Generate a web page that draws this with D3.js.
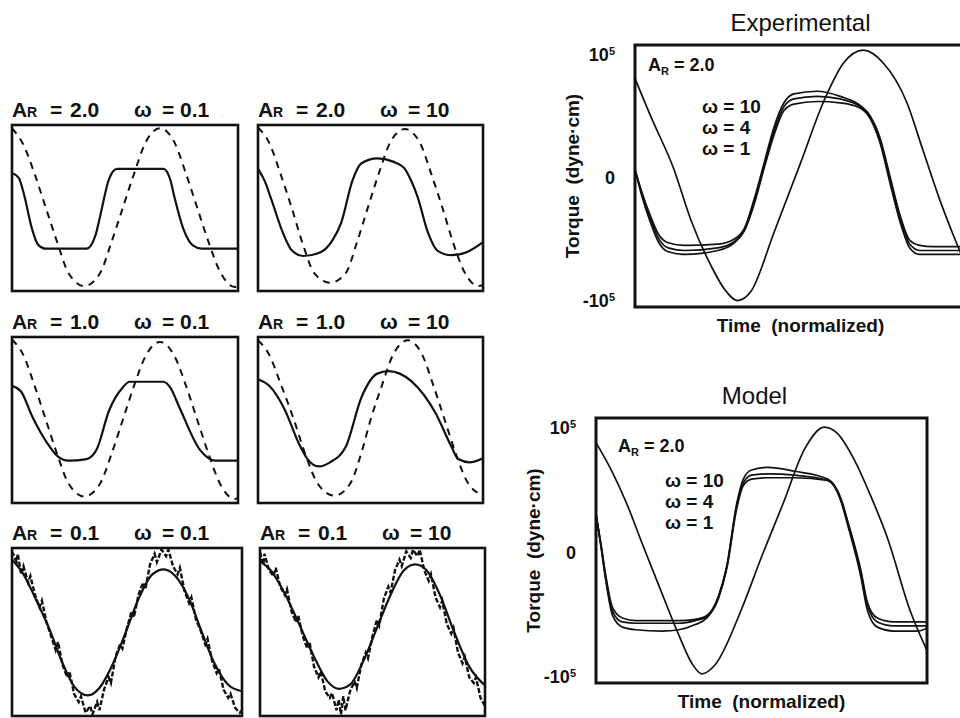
<!DOCTYPE html>
<html>
<head>
<meta charset="utf-8">
<script src="https://cdn.jsdelivr.net/npm/d3@7"></script>
<style>
  body { margin: 0; background: #fff; }
  svg { display: block; }
  text { font-family: "Liberation Sans", Arial, sans-serif; fill: #111; }
</style>
</head>
<body>
<svg id="fig" width="960" height="718"></svg>
<script>
// ---- data: [normalized time, normalized torque/strain] ----
const ampLabels = ["2.0", "1.0", "0.1"];
const freqLabels = ["0.1", "10"];
const omegaLabels = ["10", "4", "1"];
const yTickLabels = ["-10", "0", "10"];   // times 10^5 for the outer two

// A_R = 2.0, omega = 0.1
const strainA2w01 = [[0,0.98],[0.05,0.78],[0.1,0.42],[0.15,0.0],[0.2,-0.42],[0.25,-0.8],[0.32,-0.96],[0.39,-0.8],[0.44,-0.42],[0.49,0.0],[0.54,0.42],[0.59,0.8],[0.655,0.98],[0.72,0.8],[0.77,0.42],[0.82,0.0],[0.87,-0.42],[0.92,-0.78],[0.985,-0.97],[1,-0.96]];
const torqueA2w01 = [[0,0.43],[0.03,0.37],[0.05,0.2],[0.09,-0.27],[0.115,-0.45],[0.15,-0.5],[0.33,-0.5],[0.37,-0.33],[0.39,-0.1],[0.43,0.36],[0.465,0.48],[0.67,0.48],[0.7,0.35],[0.72,0.12],[0.76,-0.27],[0.8,-0.46],[0.84,-0.5],[1,-0.5]];
// A_R = 2.0, omega = 10
const strainA2w10 = [[0,0.99],[0.05,0.8],[0.1,0.42],[0.15,0.0],[0.2,-0.45],[0.25,-0.8],[0.32,-0.92],[0.39,-0.8],[0.44,-0.42],[0.49,0.02],[0.54,0.45],[0.59,0.82],[0.653,0.97],[0.72,0.8],[0.77,0.42],[0.82,0.0],[0.87,-0.45],[0.92,-0.8],[0.98,-0.96],[1,-0.95]];
const torqueA2w10 = [[0,0.48],[0.03,0.33],[0.06,0.1],[0.11,-0.3],[0.15,-0.52],[0.2,-0.59],[0.28,-0.54],[0.33,-0.4],[0.37,-0.18],[0.42,0.34],[0.46,0.55],[0.53,0.61],[0.6,0.57],[0.65,0.49],[0.68,0.34],[0.71,0.13],[0.755,-0.3],[0.8,-0.53],[0.86,-0.58],[0.93,-0.54],[1,-0.42]];
// A_R = 1.0, omega = 0.1
const strainA1w01 = [[0,0.99],[0.05,0.8],[0.1,0.42],[0.15,0.0],[0.2,-0.42],[0.25,-0.78],[0.32,-0.94],[0.39,-0.78],[0.44,-0.42],[0.49,0.0],[0.54,0.42],[0.59,0.78],[0.655,0.96],[0.72,0.78],[0.77,0.42],[0.82,0.0],[0.87,-0.42],[0.92,-0.78],[0.985,-0.97],[1,-0.96]];
const torqueA1w01 = [[0,0.42],[0.04,0.35],[0.09,0.04],[0.155,-0.28],[0.2,-0.44],[0.25,-0.5],[0.33,-0.48],[0.375,-0.36],[0.43,0.12],[0.49,0.4],[0.52,0.47],[0.67,0.47],[0.7,0.4],[0.74,0.16],[0.83,-0.36],[0.87,-0.47],[0.9,-0.5],[1,-0.5]];
// A_R = 1.0, omega = 10
const strainA1w10 = [[0,0.98],[0.05,0.8],[0.1,0.45],[0.16,0.0],[0.21,-0.42],[0.27,-0.8],[0.34,-0.93],[0.41,-0.78],[0.46,-0.4],[0.5,0.0],[0.55,0.42],[0.6,0.8],[0.667,0.98],[0.73,0.8],[0.78,0.42],[0.83,0.0],[0.88,-0.42],[0.93,-0.76],[0.99,-0.9],[1,-0.9]];
const torqueA1w10 = [[0,0.5],[0.05,0.42],[0.12,0.12],[0.18,-0.28],[0.22,-0.48],[0.27,-0.57],[0.32,-0.52],[0.39,-0.33],[0.46,0.28],[0.53,0.57],[0.58,0.6],[0.63,0.57],[0.68,0.48],[0.79,0.08],[0.86,-0.33],[0.89,-0.48],[0.94,-0.52],[1,-0.47]];
// A_R = 0.1, omega = 0.1 (noisy strain trace)
const strainA01w01 = [[0,0.98],[0.02,0.85],[0.025,0.95],[0.04,0.7],[0.05,0.8],[0.07,0.6],[0.08,0.68],[0.1,0.45],[0.12,0.3],[0.13,0.38],[0.15,0.12],[0.17,-0.05],[0.19,-0.22],[0.2,-0.12],[0.22,-0.4],[0.24,-0.55],[0.25,-0.48],[0.27,-0.75],[0.29,-0.85],[0.3,-0.78],[0.32,-0.98],[0.34,-0.9],[0.35,-1.0],[0.37,-0.85],[0.38,-0.95],[0.4,-0.7],[0.42,-0.55],[0.43,-0.62],[0.45,-0.3],[0.47,-0.15],[0.48,-0.2],[0.5,0.05],[0.52,0.25],[0.53,0.18],[0.55,0.45],[0.57,0.6],[0.58,0.52],[0.6,0.82],[0.62,0.95],[0.63,0.85],[0.65,1.0],[0.67,0.92],[0.68,1.0],[0.7,0.8],[0.72,0.7],[0.73,0.78],[0.75,0.5],[0.77,0.35],[0.78,0.42],[0.8,0.15],[0.82,0.02],[0.84,-0.15],[0.85,-0.08],[0.87,-0.35],[0.89,-0.5],[0.9,-0.45],[0.92,-0.7],[0.94,-0.8],[0.95,-0.75],[0.97,-0.92],[0.99,-0.98],[1,-0.95]];
const torqueA01w01 = [[0,0.88],[0.05,0.7],[0.1,0.42],[0.165,0.02],[0.22,-0.38],[0.27,-0.66],[0.33,-0.77],[0.38,-0.68],[0.44,-0.38],[0.495,0.0],[0.55,0.4],[0.61,0.7],[0.66,0.76],[0.71,0.68],[0.77,0.4],[0.825,0.0],[0.88,-0.38],[0.94,-0.64],[1,-0.72]];
// A_R = 0.1, omega = 10 (noisy strain trace)
const strainA01w10 = [[0,0.97],[0.015,0.82],[0.02,0.95],[0.04,0.75],[0.06,0.68],[0.07,0.78],[0.09,0.55],[0.11,0.45],[0.12,0.52],[0.14,0.25],[0.16,0.12],[0.17,0.2],[0.19,-0.05],[0.21,-0.2],[0.22,-0.12],[0.24,-0.42],[0.26,-0.55],[0.27,-0.48],[0.29,-0.72],[0.31,-0.8],[0.32,-0.74],[0.34,-0.95],[0.35,-0.82],[0.36,-1.0],[0.37,-0.78],[0.38,-0.95],[0.4,-0.72],[0.42,-0.6],[0.43,-0.68],[0.45,-0.4],[0.47,-0.25],[0.48,-0.32],[0.5,-0.05],[0.52,0.15],[0.53,0.08],[0.55,0.4],[0.57,0.55],[0.58,0.48],[0.6,0.75],[0.62,0.88],[0.63,0.8],[0.65,0.98],[0.67,0.9],[0.68,1.0],[0.7,0.92],[0.71,1.0],[0.73,0.75],[0.75,0.62],[0.76,0.7],[0.78,0.42],[0.8,0.3],[0.81,0.38],[0.83,0.1],[0.85,-0.02],[0.86,0.05],[0.88,-0.25],[0.9,-0.38],[0.91,-0.3],[0.93,-0.55],[0.95,-0.62],[0.96,-0.55],[0.98,-0.8],[1,-0.9]];
const torqueA01w10 = [[0,0.86],[0.05,0.74],[0.1,0.52],[0.17,0.12],[0.24,-0.3],[0.3,-0.6],[0.35,-0.69],[0.4,-0.64],[0.46,-0.35],[0.52,0.05],[0.58,0.45],[0.64,0.75],[0.69,0.82],[0.74,0.75],[0.8,0.45],[0.86,0.02],[0.93,-0.42],[1,-0.65]];

// Experimental, A_R = 2.0
const expSine = [[0,0.76],[0.05,0.45],[0.115,0.07],[0.17,-0.35],[0.23,-0.7],[0.27,-0.88],[0.31,-0.97],[0.35,-0.9],[0.42,-0.44],[0.5,0.1],[0.57,0.58],[0.63,0.88],[0.69,0.98],[0.75,0.88],[0.82,0.58],[0.87,0.2],[0.92,-0.18],[0.96,-0.45],[1,-0.7]];
const expW10 = [[0,0.05],[0.02,-0.12],[0.045,-0.3],[0.07,-0.45],[0.1,-0.52],[0.15,-0.54],[0.25,-0.53],[0.3,-0.49],[0.33,-0.41],[0.36,-0.18],[0.39,0.1],[0.42,0.38],[0.45,0.57],[0.48,0.64],[0.55,0.66],[0.62,0.62],[0.68,0.55],[0.71,0.47],[0.74,0.3],[0.77,0.0],[0.8,-0.3],[0.83,-0.5],[0.86,-0.54],[0.9,-0.55],[1,-0.55]];
const expW4 = [[0,0.05],[0.02,-0.13],[0.045,-0.32],[0.07,-0.48],[0.1,-0.56],[0.15,-0.58],[0.25,-0.56],[0.3,-0.51],[0.33,-0.42],[0.36,-0.2],[0.39,0.08],[0.42,0.35],[0.45,0.54],[0.48,0.6],[0.55,0.62],[0.62,0.6],[0.68,0.54],[0.71,0.46],[0.74,0.28],[0.77,-0.02],[0.8,-0.32],[0.83,-0.53],[0.86,-0.58],[0.9,-0.58],[1,-0.58]];
const expW1 = [[0,0.05],[0.02,-0.15],[0.045,-0.35],[0.07,-0.51],[0.1,-0.59],[0.15,-0.61],[0.25,-0.58],[0.3,-0.52],[0.33,-0.43],[0.36,-0.22],[0.39,0.06],[0.42,0.32],[0.45,0.51],[0.48,0.56],[0.55,0.58],[0.62,0.57],[0.68,0.53],[0.71,0.45],[0.74,0.26],[0.77,-0.05],[0.8,-0.35],[0.83,-0.56],[0.86,-0.61],[0.9,-0.61],[1,-0.61]];

// Model, A_R = 2.0
const modSine = [[0,0.83],[0.05,0.6],[0.093,0.36],[0.14,0.05],[0.19,-0.27],[0.25,-0.65],[0.29,-0.87],[0.32,-0.95],[0.36,-0.88],[0.44,-0.45],[0.5,-0.05],[0.565,0.36],[0.63,0.78],[0.69,0.95],[0.73,0.9],[0.78,0.7],[0.83,0.42],[0.88,0.1],[0.95,-0.47],[1,-0.77]];
const modW10 = [[0,0.28],[0.015,0.05],[0.03,-0.2],[0.05,-0.44],[0.08,-0.52],[0.12,-0.54],[0.25,-0.54],[0.3,-0.53],[0.335,-0.5],[0.37,-0.35],[0.395,-0.12],[0.425,0.36],[0.445,0.55],[0.47,0.62],[0.52,0.64],[0.6,0.61],[0.7,0.55],[0.74,0.4],[0.76,0.23],[0.8,-0.15],[0.82,-0.4],[0.85,-0.52],[0.9,-0.55],[1,-0.55]];
const modW4 = [[0,0.28],[0.015,0.04],[0.03,-0.22],[0.05,-0.47],[0.08,-0.55],[0.12,-0.56],[0.25,-0.56],[0.3,-0.54],[0.335,-0.51],[0.37,-0.36],[0.395,-0.13],[0.425,0.34],[0.445,0.52],[0.47,0.58],[0.52,0.59],[0.6,0.58],[0.7,0.54],[0.74,0.39],[0.76,0.22],[0.8,-0.17],[0.82,-0.42],[0.85,-0.55],[0.9,-0.58],[1,-0.58]];
const modW1 = [[0,0.28],[0.015,0.03],[0.03,-0.24],[0.05,-0.5],[0.08,-0.59],[0.12,-0.61],[0.2,-0.62],[0.25,-0.61],[0.3,-0.57],[0.335,-0.52],[0.37,-0.37],[0.395,-0.14],[0.425,0.32],[0.445,0.5],[0.47,0.55],[0.52,0.56],[0.6,0.56],[0.7,0.54],[0.74,0.38],[0.76,0.2],[0.8,-0.2],[0.82,-0.46],[0.85,-0.59],[0.9,-0.62],[0.97,-0.62],[1,-0.6]];

// ---- layout ----
const svg = d3.select("#fig");
svg.append("rect").attr("width", 960).attr("height", 718).attr("fill", "#fff");

const smallBoxes = [
  { x0: 12,  x1: 238, y0: 125, y1: 291 },
  { x0: 258, x1: 483, y0: 125, y1: 291 },
  { x0: 12,  x1: 238, y0: 337, y1: 503 },
  { x0: 258, x1: 483, y0: 337, y1: 503 },
  { x0: 12,  x1: 242, y0: 548, y1: 716 },
  { x0: 260, x1: 485, y0: 548, y1: 716 }
];

const smallPanels = [
  { amp: ampLabels[0], freq: freqLabels[0], strain: strainA2w01, torque: torqueA2w01, noisy: false },
  { amp: ampLabels[0], freq: freqLabels[1], strain: strainA2w10, torque: torqueA2w10, noisy: false },
  { amp: ampLabels[1], freq: freqLabels[0], strain: strainA1w01, torque: torqueA1w01, noisy: false },
  { amp: ampLabels[1], freq: freqLabels[1], strain: strainA1w10, torque: torqueA1w10, noisy: false },
  { amp: ampLabels[2], freq: freqLabels[0], strain: strainA01w01, torque: torqueA01w01, noisy: true },
  { amp: ampLabels[2], freq: freqLabels[1], strain: strainA01w10, torque: torqueA01w10, noisy: true }
];

let clipCount = 0;
function addClip(b) {
  const id = "clip" + (clipCount++);
  svg.append("clipPath").attr("id", id)
    .append("rect")
    .attr("x", b.x0).attr("y", b.y0)
    .attr("width", b.x1 - b.x0).attr("height", b.y1 - b.y0);
  return id;
}

smallPanels.forEach((p, i) => {
  const b = smallBoxes[i];
  const x = d3.scaleLinear().domain([0, 1]).range([b.x0, b.x1]);
  const y = d3.scaleLinear().domain([-1.02, 1.02]).range([b.y1, b.y0]);
  const clip = addClip(b);
  const g = svg.append("g").attr("clip-path", `url(#${clip})`);

  const smooth = d3.line().x(d => x(d[0])).y(d => y(d[1])).curve(d3.curveMonotoneX);
  const rough = d3.line().x(d => x(d[0])).y(d => y(d[1]));

  g.append("path")
    .attr("d", p.noisy ? rough(p.strain) : smooth(p.strain))
    .attr("fill", "none")
    .attr("stroke", "#111")
    .attr("stroke-width", p.noisy ? 2.4 : 2)
    .attr("stroke-dasharray", p.noisy ? "5,2" : "7,6");

  g.append("path")
    .attr("d", smooth(p.torque))
    .attr("fill", "none")
    .attr("stroke", "#111")
    .attr("stroke-width", 2.2);

  svg.append("rect")
    .attr("x", b.x0).attr("y", b.y0)
    .attr("width", b.x1 - b.x0).attr("height", b.y1 - b.y0)
    .attr("fill", "none").attr("stroke", "#111").attr("stroke-width", 2.6);

  // panel title: A_R = .. omega = ..
  const t = svg.append("g").attr("transform", `translate(${b.x0},${b.y0 - 8})`)
    .style("font-weight", "bold");
  t.append("text").attr("x", 0).style("font-size", "21px").text("A");
  t.append("text").attr("x", 15).style("font-size", "14px").text("R");
  t.append("text").attr("x", 38).style("font-size", "21px").text("=");
  t.append("text").attr("x", 58).style("font-size", "21px").text(p.amp);
  t.append("text").attr("x", 122).style("font-size", "21px").text("ω");
  t.append("text").attr("x", 150).style("font-size", "21px").text("=");
  t.append("text").attr("x", 168).style("font-size", "21px").text(p.freq);
});

// ---- large panels ----
const bigPanels = [
  { title: "Experimental", box: { x0: 635, x1: 966, y0: 45, y1: 307 },
    sine: expSine, resp: [expW10, expW4, expW1], arY: 71, wY: 113, arX: 648, wX: 702 },
  { title: "Model", box: { x0: 596, x1: 927, y0: 418, y1: 683 },
    sine: modSine, resp: [modW10, modW4, modW1], arY: 452, wY: 487, arX: 618, wX: 665 }
];

bigPanels.forEach(p => {
  const b = p.box;
  const x = d3.scaleLinear().domain([0, 1]).range([b.x0, b.x1]);
  const y = d3.scaleLinear().domain([-1.02, 1.02]).range([b.y1, b.y0]);
  const clip = addClip(b);
  const g = svg.append("g").attr("clip-path", `url(#${clip})`);
  const line = d3.line().x(d => x(d[0])).y(d => y(d[1])).curve(d3.curveMonotoneX);

  g.append("path").attr("d", line(p.sine))
    .attr("fill", "none").attr("stroke", "#111").attr("stroke-width", 1.7);
  g.selectAll(".resp").data(p.resp).enter().append("path")
    .attr("class", "resp")
    .attr("d", d => line(d))
    .attr("fill", "none").attr("stroke", "#111").attr("stroke-width", 1.7);

  svg.append("rect")
    .attr("x", b.x0).attr("y", b.y0)
    .attr("width", b.x1 - b.x0).attr("height", b.y1 - b.y0)
    .attr("fill", "none").attr("stroke", "#111").attr("stroke-width", 3);

  // y axis: -10^5, 0, 10^5
  const yAxis = d3.axisLeft(d3.scaleLinear().domain([-1, 1]).range([b.y1 - 6, b.y0 + 10]))
    .tickValues([-1, 0, 1]).tickSize(0).tickPadding(20)
    .tickFormat((d, i) => yTickLabels[i]);
  const ax = svg.append("g").attr("transform", `translate(${b.x0},0)`).call(yAxis);
  ax.select(".domain").remove();
  ax.selectAll("text")
    .style("font-family", "'Liberation Sans', Arial, sans-serif")
    .style("font-size", "18px").style("font-weight", "bold").attr("fill", "#111")
    .each(function (d) {
      if (d !== 0) {
        d3.select(this).append("tspan")
          .attr("dy", "-0.55em").style("font-size", "11px").text("5");
      }
    });

  svg.append("text")
    .attr("x", (b.x0 + b.x1) / 2 - (p.title === "Model" ? 7 : 0)).attr("y", b.y0 - 14)
    .attr("text-anchor", "middle").style("font-size", "24px").text(p.title);

  svg.append("text")
    .attr("x", (b.x0 + b.x1) / 2).attr("y", b.y1 + 25)
    .attr("text-anchor", "middle").style("font-size", "19px").style("font-weight", "bold")
    .style("white-space", "pre")
    .text("Time  (normalized)");

  svg.append("text")
    .attr("transform", `translate(${b.x0 - 56},${(b.y0 + b.y1) / 2}) rotate(-90)`)
    .attr("text-anchor", "middle").style("font-size", "19px").style("font-weight", "bold")
    .style("white-space", "pre")
    .text("Torque  (dyne·cm)");

  const ar = svg.append("text").attr("x", p.arX).attr("y", p.arY)
    .style("font-size", "18px").style("font-weight", "bold");
  ar.append("tspan").text("A");
  ar.append("tspan").attr("dy", 4).style("font-size", "11px").text("R");
  ar.append("tspan").attr("dy", -4).text(" = 2.0");

  svg.selectAll(null).data(omegaLabels).enter().append("text")
    .attr("x", p.wX).attr("y", (d, i) => p.wY + i * 21)
    .style("font-size", "19px").style("font-weight", "bold")
    .text(d => "ω = " + d);
});
</script>
</body>
</html>
